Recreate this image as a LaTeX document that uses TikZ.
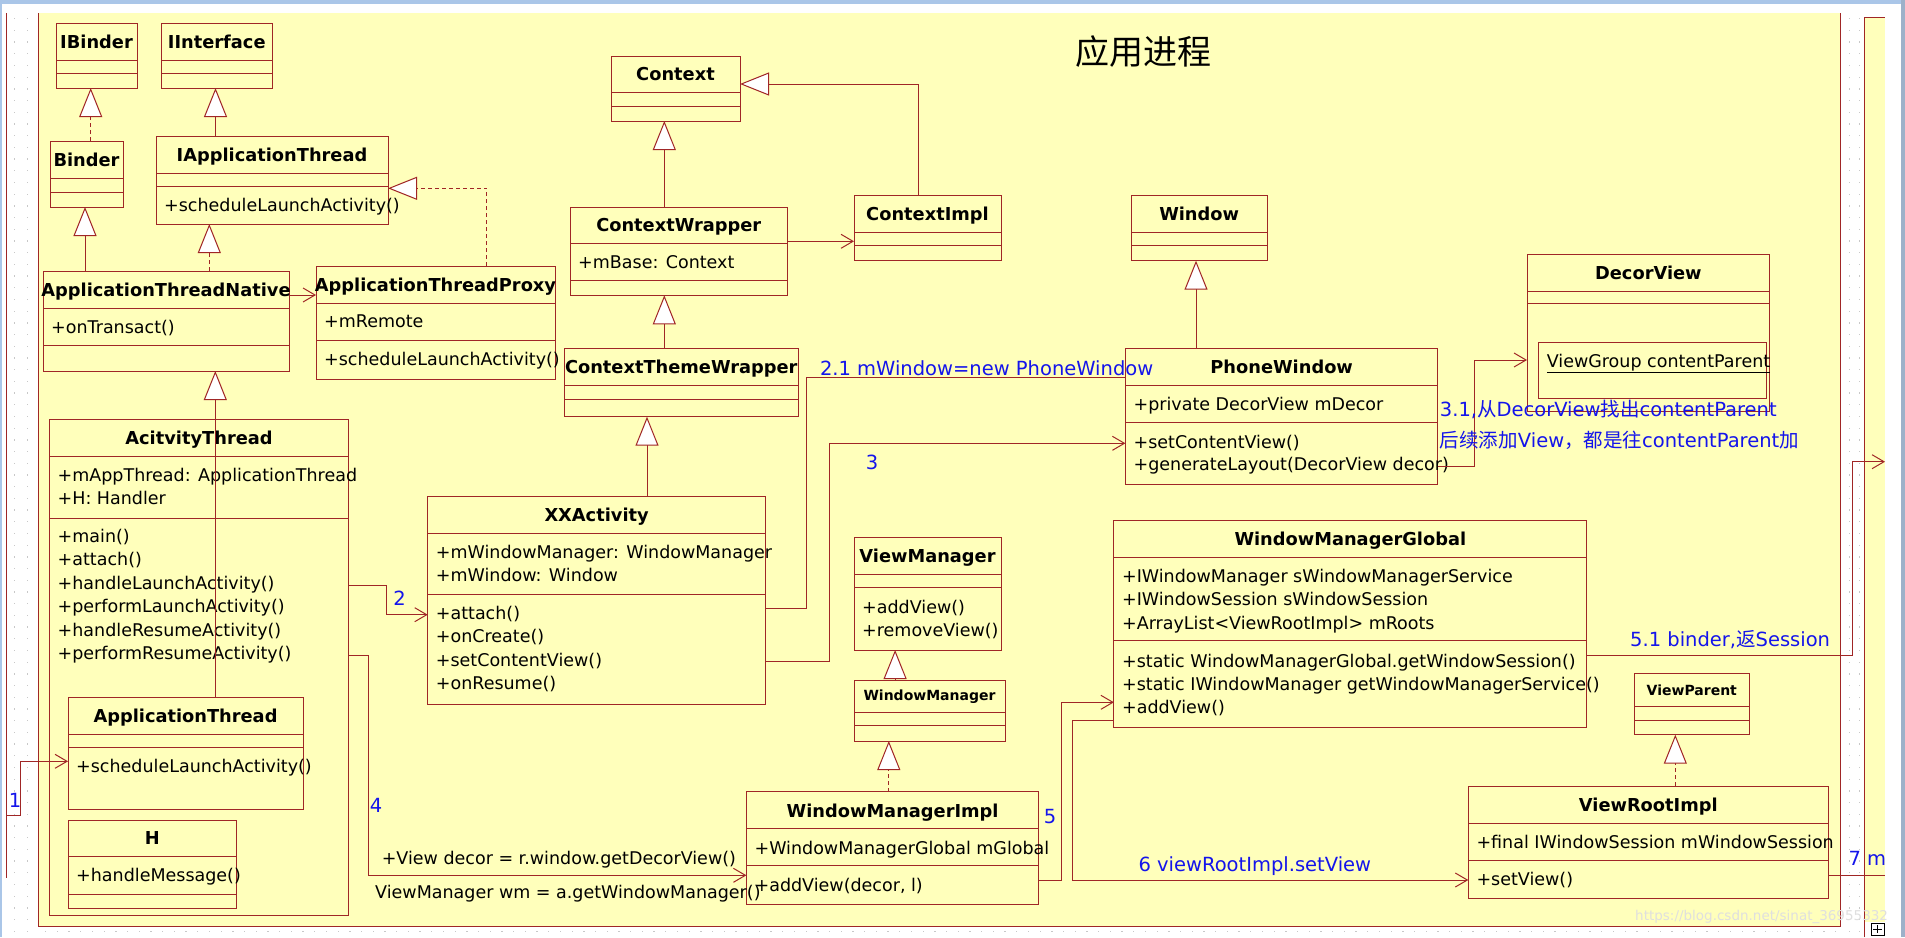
\documentclass[tikz,border=0pt]{standalone}
\usepackage{fontspec}
\setmainfont{DejaVu Sans}
\newfontfamily\cjk{Noto Sans CJK SC}
\usetikzlibrary{arrows.meta,fit}

\definecolor{umlred}{RGB}{160,38,38}
\definecolor{bgyellow}{RGB}{255,255,187}
\definecolor{lblblue}{RGB}{20,20,235}
\definecolor{chrome}{RGB}{170,198,232}
\definecolor{griddot}{RGB}{200,200,200}

\tikzset{
  cls/.style={draw=umlred, line width=1pt, inner sep=0pt, outer sep=0pt, rectangle},
  cline/.style={draw=umlred, line width=1pt},
  ttl/.style={font=\bfseries\fontsize{17.8}{20}\selectfont, inner sep=0pt, text height=13pt, text depth=0pt},
  sttl/.style={font=\bfseries\fontsize{14}{16}\selectfont, inner sep=0pt, text height=10.3pt, text depth=0pt},
  mem/.style={font=\fontsize{17.5}{20}\selectfont, inner sep=0pt, anchor=west, xshift=8pt, text height=12.8pt, text depth=0pt},
  lbl/.style={font=\fontsize{19.5}{22}\selectfont, text=lblblue, inner sep=0pt, anchor=west, text height=14.2pt, text depth=0pt},
  note/.style={font=\fontsize{17.5}{20}\selectfont, inner sep=0pt, anchor=west, text height=12.8pt, text depth=0pt},
  gen/.style={cline, -{Triangle[width=23pt,length=29pt,fill=white]}},
  real/.style={gen, dash pattern=on 4pt off 3pt},
  assoc/.style={cline, -{Straight Barb[length=12pt,width=14pt]}},
  link/.style={cline},
}

\newcommand\ubox[5]{\node[cls, fit={(#2,#3) (#4,#5)}] (#1) {};}
\newcommand\clsep[2]{\draw[cline] (#1.west |- 0,#2) -- (#1.east |- 0,#2);}

\begin{document}
\begin{tikzpicture}[x=1pt,y=-1pt]
\useasboundingbox (0,0) rectangle (1905,937);
% background and frames
\fill[white] (0,0) rectangle (1905,937);
\fill[chrome] (0,0) rectangle (1905,4);
\fill[chrome] (0,0) rectangle (2,937);
\fill[chrome!70!gray] (1901,0) rectangle (1905,937);
\foreach \r in {0,...,78} {
  \fill[griddot] (13.5,{18+11.7*\r}) rectangle ++(1.3,1.3);
  \fill[griddot] (26.5,{18+11.7*\r}) rectangle ++(1.3,1.3);
  \fill[griddot] (1848.5,{18+11.7*\r}) rectangle ++(1.3,1.3);
  \fill[griddot] (1858.5,{18+11.7*\r}) rectangle ++(1.3,1.3);
}
\foreach \c in {0,...,153} {
  \fill[griddot] ({45+11.7*\c},931) rectangle ++(1.3,1.3);
}
\fill[bgyellow] (38,13) rectangle (1840,926);
\draw[cline] (38,13) -- (38,926) -- (1840,926) -- (1840,13);
\fill[bgyellow] (1864.6,17.5) rectangle (1885,922);
\draw[cline] (1864.6,937) -- (1864.6,17.5) -- (1885,17.5);
\draw[cline] (6.7,13) -- (6.7,878);
\coordinate (lf) at (6.7,815.4);
\coordinate (rf51) at (1885,461.7);
\coordinate (rf7) at (1885,875.7);

% title
\node[font=\cjk\fontsize{34}{36}\selectfont, inner sep=0pt] (maintitle) at (1143,52) {应用进程};

% ---- classes ----
\ubox{ibinder}{56}{23}{137}{88}
\clsep{ibinder}{60}\clsep{ibinder}{73.3}
\node[ttl] at (ibinder.north |- 0,41.5) {IBinder};

\ubox{iinterface}{161.5}{23}{272}{88}
\clsep{iinterface}{60}\clsep{iinterface}{73.3}
\node[ttl] at (iinterface.north |- 0,41.5) {IInterface};

\ubox{binder}{50}{141}{123}{207}
\clsep{binder}{178}\clsep{binder}{192}
\node[ttl] at (binder.north |- 0,159.5) {Binder};

\ubox{iat}{156}{136}{388}{224}
\clsep{iat}{173}\clsep{iat}{186}
\node[ttl] at (iat.north |- 0,154.5) {IApplicationThread};
\node[mem] at (iat.west |- 0,205) {+scheduleLaunchActivity()};

\ubox{atn}{43}{271}{289}{371}
\clsep{atn}{308}\clsep{atn}{345}
\node[ttl] at (atn.north |- 0,289.5) {ApplicationThreadNative};
\node[mem] at (atn.west |- 0,327) {+onTransact()};

\ubox{atp}{316}{266}{555}{379}
\clsep{atp}{303}\clsep{atp}{340}
\node[ttl] at (atp.north |- 0,284.5) {ApplicationThreadProxy};
\node[mem] at (atp.west |- 0,321) {+mRemote};
\node[mem] at (atp.west |- 0,359) {+scheduleLaunchActivity()};

\ubox{at}{49.5}{419}{348.5}{915}
\clsep{at}{456}\clsep{at}{518}
\node[ttl] at (at.north |- 0,437.5) {AcitvityThread};
\node[mem] at (at.west |- 0,475) {+mAppThread: ApplicationThread};
\node[mem] at (at.west |- 0,498.5) {+H: Handler};
\node[mem] at (at.west |- 0,536) {+main()};
\node[mem] at (at.west |- 0,559.5) {+attach()};
\node[mem] at (at.west |- 0,583) {+handleLaunchActivity()};
\node[mem] at (at.west |- 0,606.5) {+performLaunchActivity()};
\node[mem] at (at.west |- 0,630) {+handleResumeActivity()};
\node[mem] at (at.west |- 0,653.5) {+performResumeActivity()};

\ubox{apthread}{68}{697}{303}{809}
\clsep{apthread}{734.5}\clsep{apthread}{747.5}
\node[ttl] at (apthread.north |- 0,715.5) {ApplicationThread};
\node[mem] at (apthread.west |- 0,766.5) {+scheduleLaunchActivity()};

\ubox{hbox}{68}{820}{236.7}{908.6}
\clsep{hbox}{856.5}\clsep{hbox}{894}
\node[ttl] at (hbox.north |- 0,838) {H};
\node[mem] at (hbox.west |- 0,875) {+handleMessage()};

\ubox{ctx}{611}{56}{740}{121}
\clsep{ctx}{92.3}\clsep{ctx}{106.3}
\node[ttl] at (ctx.north |- 0,74) {Context};

\ubox{cw}{570}{207}{787.5}{295.3}
\clsep{cw}{243.3}\clsep{cw}{280.7}
\node[ttl] at (cw.north |- 0,225) {ContextWrapper};
\node[mem] at (cw.west |- 0,261.7) {+mBase: Context};

\ubox{ci}{854}{195}{1001}{260.7}
\clsep{ci}{232.3}\clsep{ci}{245}
\node[ttl] at (ci.north |- 0,213.5) {ContextImpl};

\ubox{ctw}{564}{348.3}{798.5}{416.7}
\clsep{ctw}{385}\clsep{ctw}{399}
\node[ttl] at (ctw.north |- 0,366.7) {ContextThemeWrapper};

\ubox{xx}{427.7}{496}{765.5}{704}
\clsep{xx}{533}\clsep{xx}{594.2}
\node[ttl] at (xx.north |- 0,514.5) {XXActivity};
\node[mem] at (xx.west |- 0,552.4) {+mWindowManager: WindowManager};
\node[mem] at (xx.west |- 0,575.5) {+mWindow: Window};
\node[mem] at (xx.west |- 0,613) {+attach()};
\node[mem] at (xx.west |- 0,636.3) {+onCreate()};
\node[mem] at (xx.west |- 0,660) {+setContentView()};
\node[mem] at (xx.west |- 0,683.5) {+onResume()};

\ubox{win}{1131.3}{195}{1267}{260.7}
\clsep{win}{232.3}\clsep{win}{245}
\node[ttl] at (win.north |- 0,213.5) {Window};

\ubox{pw}{1125.4}{348.3}{1437.9}{484}
\clsep{pw}{385.5}\clsep{pw}{422.5}
\node[ttl] at (pw.north |- 0,366.7) {PhoneWindow};
\node[mem] at (pw.west |- 0,404.3) {+private DecorView mDecor};
\node[mem] at (pw.west |- 0,441.7) {+setContentView()};
\node[mem] at (pw.west |- 0,464.3) {+generateLayout(DecorView decor)};

\ubox{decor}{1527}{254.3}{1769.7}{411.7}
\clsep{decor}{291}\clsep{decor}{303.3}
\node[ttl] at (decor.north |- 0,272.5) {DecorView};
\ubox{vg}{1538.6}{342.3}{1766.5}{398.7}
\node[mem] at (vg.west |- 0,361) {\underline{ViewGroup contentParent}};

\ubox{vm}{854}{537.3}{1001}{650}
\clsep{vm}{574}\clsep{vm}{587.7}
\node[ttl] at (vm.north |- 0,556) {ViewManager};
\node[mem] at (vm.west |- 0,606.7) {+addView()};
\node[mem] at (vm.west |- 0,630) {+removeView()};

\ubox{wm}{854}{680}{1005}{741}
\clsep{wm}{712.3}\clsep{wm}{725.7}
\node[sttl] at (wm.north |- 0,695.5) {WindowManager};

\ubox{wmi}{746.4}{791.7}{1038.8}{904.3}
\clsep{wmi}{828.3}\clsep{wmi}{865.7}
\node[ttl] at (wmi.north |- 0,810.5) {WindowManagerImpl};
\node[mem] at (wmi.west |- 0,847.7) {+WindowManagerGlobal mGlobal};
\node[mem] at (wmi.west |- 0,885) {+addView(decor, l)};

\ubox{wmg}{1113.9}{520.7}{1586.7}{727.3}
\clsep{wmg}{557.3}\clsep{wmg}{640.7}
\node[ttl] at (wmg.north |- 0,538.5) {WindowManagerGlobal};
\node[mem] at (wmg.west |- 0,576) {+IWindowManager sWindowManagerService};
\node[mem] at (wmg.west |- 0,599.5) {+IWindowSession sWindowSession};
\node[mem] at (wmg.west |- 0,623) {+ArrayList<ViewRootImpl> mRoots};
\node[mem] at (wmg.west |- 0,660.7) {+static WindowManagerGlobal.getWindowSession()};
\node[mem] at (wmg.west |- 0,684) {+static IWindowManager getWindowManagerService()};
\node[mem] at (wmg.west |- 0,707) {+addView()};

\ubox{vp}{1634.3}{673.3}{1749.3}{734.7}
\clsep{vp}{706.7}\clsep{vp}{720}
\node[sttl] at (vp.north |- 0,690) {ViewParent};

\ubox{vri}{1468.3}{786}{1828.3}{898.3}
\clsep{vri}{823.3}\clsep{vri}{860.7}
\node[ttl] at (vri.north |- 0,805) {ViewRootImpl};
\node[mem] at (vri.west |- 0,841.7) {+final IWindowSession mWindowSession};
\node[mem] at (vri.west |- 0,879) {+setView()};

% ---- generalizations / realizations ----
\draw[real] (binder.north -| 90.7,0) -- (ibinder.south -| 90.7,0);
\draw[gen] (iat.north -| 215.5,0) -- (iinterface.south -| 215.5,0);
\draw[gen] (atn.north -| 85,0) -- (binder.south -| 85,0);
\draw[real] (atn.north -| 209.3,0) -- (iat.south -| 209.3,0);
\draw[real] (atp.north -| 486.8,0) |- (iat.east |- 0,188.3);
\draw[gen] (apthread.north -| 215.3,0) -- (atn.south -| 215.3,0);
\draw[gen] (xx.north -| 647,0) -- (ctw.south -| 647,0);
\draw[gen] (ctw.north -| 664.3,0) -- (cw.south -| 664.3,0);
\draw[gen] (cw.north -| 664.3,0) -- (ctx.south -| 664.3,0);
\draw[gen] (ci.north -| 918.3,0) |- (ctx.east |- 0,84);
\draw[gen] (pw.north -| 1196,0) -- (win.south -| 1196,0);
\draw[gen] (wm.north -| 895.1,0) -- (vm.south -| 895.1,0);
\draw[real] (wmi.north -| 888.8,0) -- (wm.south -| 888.8,0);
\draw[real] (vri.north -| 1675.3,0) -- (vp.south -| 1675.3,0);

% ---- associations / calls ----
\draw[assoc] (atn.east |- 0,295) -- (atp.west |- 0,295);
\draw[assoc] (cw.east |- 0,241.3) -- (ci.west |- 0,241.3);
\draw[assoc] (lf) -| (20.4,761.3) -- (apthread.west |- 0,761.3);
\draw[assoc] (at.east |- 0,585) -| (386.7,614.7) -- (xx.west |- 0,614.7);
\draw[assoc] (at.east |- 0,655.1) -| (368.4,875.3) -- (wmi.west |- 0,875.3);
\draw[link] (xx.east |- 0,608.3) -| (806.4,377.7) -- (pw.west |- 0,377.7);
\draw[assoc] (xx.east |- 0,661.7) -| (829.4,443.3) -- (pw.west |- 0,443.3);
\draw[assoc] (pw.east |- 0,466) -| (1474.4,360) -- (decor.west |- 0,360);
\draw[assoc] (wmi.east |- 0,880) -| (1061.2,702.3) -- (wmg.west |- 0,702.3);
\draw[assoc] (wmg.west |- 0,720.7) -| (1072.3,880) -- (vri.west |- 0,880);
\draw[assoc] (wmg.east |- 0,655.3) -| (1852.7,461.7) -- (rf51);
\draw[link] (vri.east |- 0,875.7) -- (rf7);

% ---- labels ----
\node[lbl, anchor=center] (l1) at (15,800) {1};
\node[lbl, anchor=center] (l2) at (399.5,598) {2};
\node[lbl, anchor=center] (l3) at (872,462) {3};
\node[lbl, anchor=center] (l4) at (376,805) {4};
\node[lbl, anchor=center] (l5) at (1050,816) {5};
\node[lbl] (l21) at (819.8,368.5) {2.1 mWindow=new PhoneWindow};
\node[lbl] (l31a) at (1439.7,409.5) {3.1,{\cjk 从}DecorView{\cjk 找出}contentParent};
\node[lbl] (l31b) at (1439.7,440.7) {{\cjk 后续添加}View{\cjk ，都是往}contentParent{\cjk 加}};
\node[lbl] (l51) at (1630,639) {5.1 binder,{\cjk 返}Session};
\node[lbl] (l6) at (1138.4,864.7) {6 viewRootImpl.setView};
\begin{scope}
\clip (0,0) rectangle (1885,937);
\node[lbl] (l7) at (1848.3,858.7) {7 m};
\end{scope}
\node[note] (n4a) at (381.6,858.2) {+View decor = r.window.getDecorView()};
\node[note] (n4b) at (375,892) {ViewManager wm = a.getWindowManager()};

% watermark and handle icon
\node[font=\fontsize{13.5}{15}\selectfont, text=gray!25, anchor=west, inner sep=0pt] (wmark) at (1635,916.7) {https://blog.csdn.net/sinat\_36955332};
\draw[black, line width=0.5pt, fill=white] (1871,923) rectangle (1884,935);
\draw[black, line width=0.8pt] (1877.5,925) -- (1877.5,933) (1873,929) -- (1882,929);
\end{tikzpicture}
\end{document}
